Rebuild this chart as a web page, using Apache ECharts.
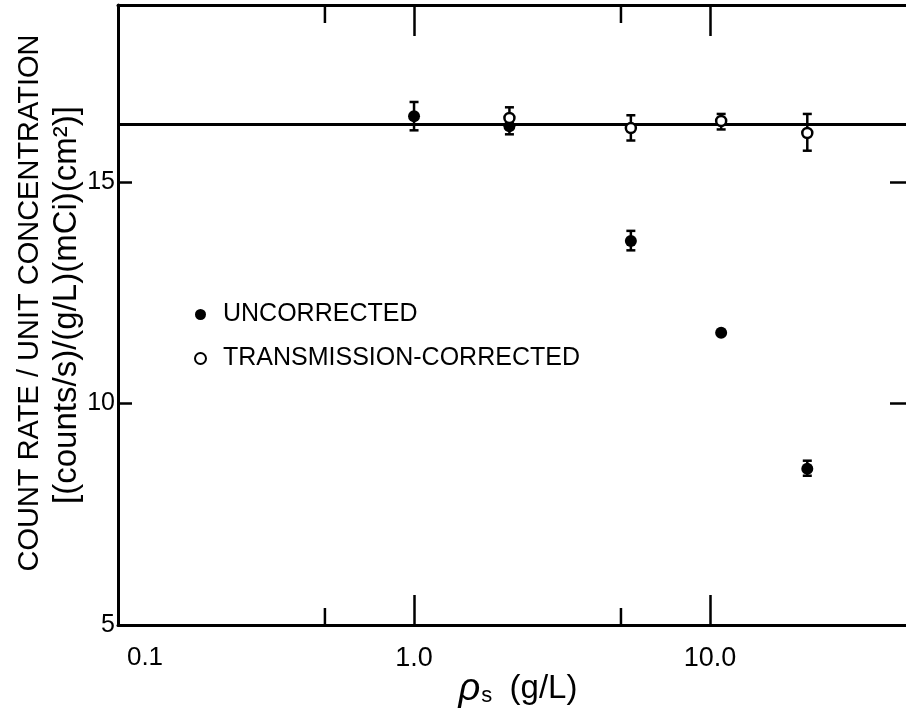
<!DOCTYPE html>
<html><head><meta charset="utf-8">
<script src="https://cdn.jsdelivr.net/npm/echarts@6/dist/echarts.min.js"></script>
<style>html,body{margin:0;padding:0;background:#fff}#c{width:906px;height:709px}</style>
</head><body><div id="c"></div>
<script>
// ---- data ----
const xUncorrected = [1.0, 2.1, 5.4, 10.9, 21.3];
const yUncorrected = [16.49, 16.26, 13.67, 11.60, 8.53];
const errUncorrectedLow = [16.17, 16.08, 13.46, null, 8.37];
const errUncorrectedHigh = [16.81, 16.44, 13.90, null, 8.71];
const xCorrected = [2.1, 5.4, 10.9, 21.3];
const yCorrected = [16.45, 16.22, 16.38, 16.11];
const errCorrectedLow = [16.21, 15.94, 16.19, 15.71];
const errCorrectedHigh = [16.69, 16.51, 16.54, 16.54];
const fitLineX = [0.1, 50];
const fitLineY = [16.3, 16.3];
const xTickValues = [0.1, 1, 10];
const xTickLabels = ['0.1', '1.0', '10.0'];
const yTickLabels = [5, 10, 15];
const xMinorTicks = [0.5, 5];
const seriesNames = ['UNCORRECTED', 'TRANSMISSION-CORRECTED'];

const FONT = '"Liberation Sans", Arial, sans-serif';
const chart = echarts.init(document.getElementById('c'), null, {renderer: 'canvas'});

function xLabel(v) {
  for (let i = 0; i < xTickValues.length; i++) {
    if (Math.abs(Math.log10(v) - Math.log10(xTickValues[i])) < 1e-6) {
      return i === 0 ? '{m|' + xTickLabels[i] + '}' : xTickLabels[i];
    }
  }
  return '';
}
function yLabel(v) { return yTickLabels.indexOf(v) >= 0 ? String(v) : ''; }

function errRender(params, api) {
  const x = api.value(0), lo = api.value(1), hi = api.value(2);
  const a = api.coord([x, lo]), b = api.coord([x, hi]);
  const w = 4.5;
  const st = {stroke: '#000', lineWidth: 2.5};
  return {type: 'group', children: [
    {type: 'line', shape: {x1: a[0], y1: a[1], x2: b[0], y2: b[1]}, style: st},
    {type: 'line', shape: {x1: a[0] - w, y1: a[1], x2: a[0] + w, y2: a[1]}, style: st},
    {type: 'line', shape: {x1: b[0] - w, y1: b[1], x2: b[0] + w, y2: b[1]}, style: st}
  ]};
}
function minorRender(params, api) {
  const x = api.value(0);
  const b = api.coord([x, 5]), t = api.coord([x, 19]);
  const st = {stroke: '#000', lineWidth: 2.5};
  return {type: 'group', children: [
    {type: 'line', shape: {x1: b[0], y1: b[1], x2: b[0], y2: b[1] - 17}, style: st},
    {type: 'line', shape: {x1: t[0], y1: t[1], x2: t[0], y2: t[1] + 18}, style: st}
  ]};
}

const axisLine = {show: true, lineStyle: {color: '#000', width: 3}};
const option = {
  animation: false,
  backgroundColor: '#fff',
  textStyle: {fontFamily: FONT, color: '#000'},
  grid: {left: 118, right: -11, top: 5, bottom: 84, containLabel: false, outerBoundsMode: 'none'},
  legend: {
    data: seriesNames, orient: 'vertical', left: 189, top: 296,
    itemWidth: 11, itemHeight: 11, itemGap: 17,
    textStyle: {fontSize: 25, fontFamily: FONT, color: '#000', padding: [0, 0, 0, 12], lineHeight: 27},
    selectedMode: false
  },
  xAxis: [
    {type: 'log', logBase: 10, min: 0.1, max: 50, position: 'bottom',
     axisLine: axisLine,
     axisTick: {inside: true, length: 30, lineStyle: {color: '#000', width: 2.5}},
     axisLabel: {formatter: xLabel, fontSize: 27, color: '#000', margin: 20, fontFamily: FONT,
                 showMaxLabel: false, rich: {m: {fontSize: 26, fontFamily: FONT, color: '#000', padding: [0, 0, 0, 54]}}},
     splitLine: {show: false}, minorTick: {show: false}},
    {type: 'log', logBase: 10, min: 0.1, max: 50, position: 'top',
     axisLine: axisLine,
     axisTick: {inside: true, length: 31, lineStyle: {color: '#000', width: 2.5}},
     axisLabel: {show: false}, splitLine: {show: false}}
  ],
  yAxis: [
    {type: 'value', min: 5, max: 19, interval: 5, position: 'left',
     axisLine: axisLine,
     axisTick: {inside: true, length: 14, lineStyle: {color: '#000', width: 2.5}},
     axisLabel: {formatter: yLabel, fontSize: 25, color: '#000', margin: 3, fontFamily: FONT, showMaxLabel: false},
     splitLine: {show: false}},
    {type: 'value', min: 5, max: 19, interval: 5, position: 'right',
     axisLine: axisLine,
     axisTick: {inside: true, length: 27, lineStyle: {color: '#000', width: 2.5}},
     axisLabel: {show: false}, splitLine: {show: false}}
  ],
  graphic: [
    {type: 'text', x: 30, y: 303, rotation: Math.PI / 2,
     style: {text: 'COUNT RATE / UNIT CONCENTRATION', font: '29px ' + FONT, fill: '#000', align: 'center', verticalAlign: 'middle'}},
    {type: 'text', x: 67, y: 305, rotation: Math.PI / 2,
     style: {text: '[(counts/s)/(g/L)(mCi)(cm²)]', font: '33px ' + FONT, fill: '#000', align: 'center', verticalAlign: 'middle'}},
    {type: 'text', x: 518, y: 689,
     style: {text: '{r|ρ}{s|s}{n| (g/L)}', align: 'center', verticalAlign: 'middle', fill: '#000',
       rich: {r: {fontSize: 38, fontStyle: 'italic', fontFamily: FONT, fill: '#000'},
              s: {fontSize: 22, fontFamily: FONT, padding: [14, 8, 0, 1], fill: '#000'},
              n: {fontSize: 33, fontFamily: FONT, fill: '#000'}}}}
  ],
  series: [
    {type: 'line', name: 'fit', data: fitLineX.map((x, i) => [x, fitLineY[i]]),
     symbol: 'none', lineStyle: {color: '#000', width: 3}, z: 1, silent: true},
    {type: 'custom', name: 'minor', renderItem: minorRender, data: xMinorTicks.map(v => [v, 5]),
     encode: {x: 0, y: 1}, clip: false, z: 1, silent: true},
    {type: 'custom', name: 'errU', renderItem: errRender,
     data: xUncorrected.map((x, i) => [x, errUncorrectedLow[i], errUncorrectedHigh[i]]).filter(d => d[1] != null),
     encode: {x: 0, y: [1, 2]}, z: 2, silent: true},
    {type: 'custom', name: 'errC', renderItem: errRender,
     data: xCorrected.map((x, i) => [x, errCorrectedLow[i], errCorrectedHigh[i]]),
     encode: {x: 0, y: [1, 2]}, z: 2, silent: true},
    {type: 'scatter', name: seriesNames[0], data: xUncorrected.map((x, i) => [x, yUncorrected[i]]),
     symbol: 'circle', symbolSize: 12, itemStyle: {color: '#000', opacity: 1}, z: 3},
    {type: 'scatter', name: seriesNames[1], data: xCorrected.map((x, i) => [x, yCorrected[i]]),
     symbol: 'circle', symbolSize: 10, itemStyle: {color: '#fff', borderColor: '#000', borderWidth: 2.5, opacity: 1}, z: 4}
  ]
};
chart.setOption(option);
</script>
</body></html>
